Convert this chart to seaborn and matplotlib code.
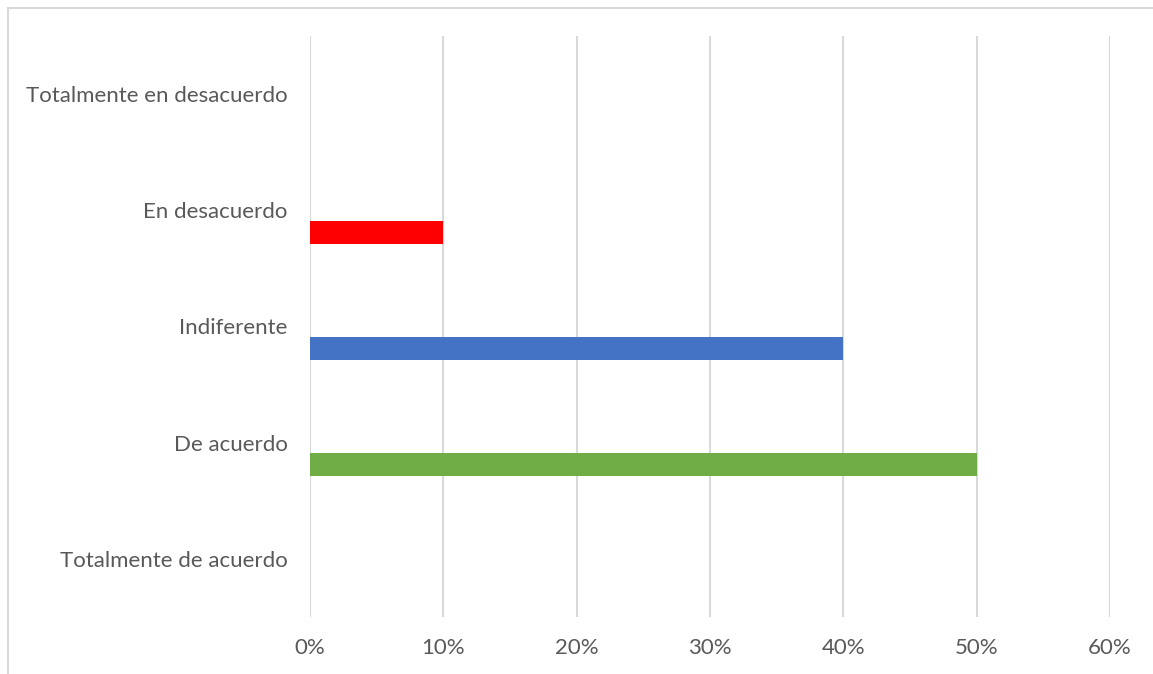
import numpy as np
import pandas as pd
import matplotlib
matplotlib.use("Agg")
import matplotlib.pyplot as plt
from matplotlib.patches import Rectangle
from matplotlib.ticker import PercentFormatter
import seaborn as sns

categories = [
    "Totalmente en desacuerdo",
    "En desacuerdo",
    "Indiferente",
    "De acuerdo",
    "Totalmente de acuerdo",
]
percentages = [0, 10, 40, 50, 0]
bar_colors = ["#A5A5A5", "#FF0000", "#4472C4", "#70AD47", "#FFC000"]
x_ticks = [0, 10, 20, 30, 40, 50, 60]

df = pd.DataFrame({"categoria": categories, "porcentaje": percentages})

sns.set_theme(style="white")
plt.rcParams["font.family"] = ["Lato", "DejaVu Sans"]

W, H = 1153, 674
fig = plt.figure(figsize=(W / 100, H / 100), dpi=100)
ax = fig.add_axes([310 / W, 1 - 617 / H, 800 / W, 581 / H])

sns.barplot(
    data=df, y="categoria", x="porcentaje", hue="categoria",
    order=categories, hue_order=categories,
    palette=dict(zip(categories, bar_colors)),
    orient="h", width=0.2, legend=False, ax=ax, saturation=1,
    linewidth=0,
)

# bars sit slightly below each category label, as in a clustered Excel bar chart
offset = 0.19
ax.set_ylim(len(categories) - 0.5 - offset, -0.5 - offset)
ax.set_yticks(np.arange(len(categories)) - offset, labels=categories)

ax.set_xlim(0, 60)
ax.set_xticks(x_ticks)
ax.xaxis.set_major_formatter(PercentFormatter(decimals=0))
ax.set_xlabel("")
ax.set_ylabel("")

ax.grid(axis="x", color="#D9D9D9", linewidth=1.5)
ax.grid(axis="y", visible=False)
ax.set_axisbelow(True)
for s in ax.spines.values():
    s.set_visible(False)

ax.tick_params(axis="y", length=0, pad=16, labelsize=16, labelcolor="#595959")
ax.tick_params(axis="x", length=0, pad=15, labelsize=16, labelcolor="#595959")

# chart area border
fig.patches.append(Rectangle((7.5 / W, -0.1), 1.2, 1 - 7.5 / H + 0.1,
                             transform=fig.transFigure, fill=False,
                             edgecolor="#D9D9D9", linewidth=1.5, zorder=0))

fig.savefig("out.png", dpi=100)
